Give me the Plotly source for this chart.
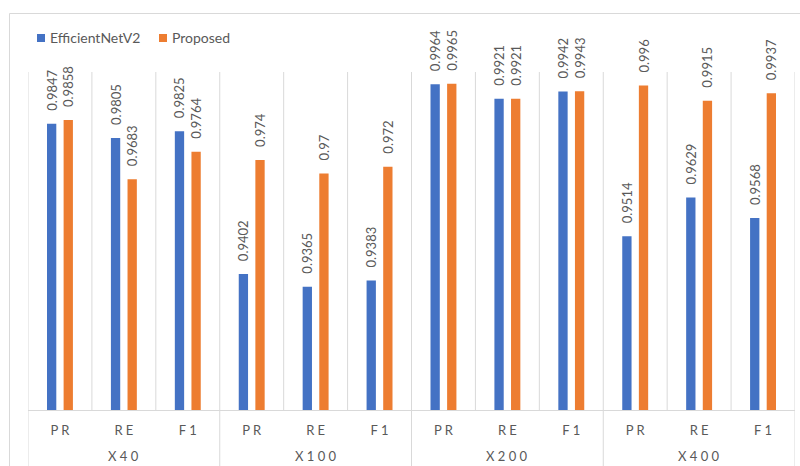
import plotly.graph_objects as go

# ---- data -------------------------------------------------------------
magnifications = ["X40", "X100", "X200", "X400"]
metrics = ["PR", "RE", "F1"]
series_names = ["EfficientNetV2", "Proposed"]
efficientnet_values = [0.9847, 0.9805, 0.9825,
                       0.9402, 0.9365, 0.9383,
                       0.9964, 0.9921, 0.9942,
                       0.9514, 0.9629, 0.9568]
proposed_values = [0.9858, 0.9683, 0.9764,
                   0.974, 0.97, 0.972,
                   0.9965, 0.9921, 0.9943,
                   0.996, 0.9915, 0.9937]
series_colors = ["#4472C4", "#ED7D31"]

# ---- geometry ---------------------------------------------------------
W, H = 800, 466
M_L, M_R, M_T, M_B = 28, 5, 72, 56
PW, PH = W - M_L - M_R, H - M_T - M_B
GREY = "#D9D9D9"
TEXT = "#595959"
FONT = "Lato, 'Open Sans', sans-serif"


def px_x(p):
    return (p - M_L) / PW


def px_y(p):
    return (H - M_B - p) / PH


def spaced(s):
    # letter-spaced axis labels
    return " ".join(s)


n_metrics = len(metrics)
n_cats = len(magnifications) * n_metrics
positions = list(range(n_cats))
inner_labels = [spaced(k) for _ in magnifications for k in metrics]

fig = go.Figure()
for name, vals, col in zip(series_names, [efficientnet_values, proposed_values], series_colors):
    fig.add_trace(go.Bar(
        x=positions, y=vals, name=name,
        marker=dict(color=col, line=dict(width=0)),
        text=["\u00a0\u00a0\u00a0" + str(v) for v in vals],
        textposition="outside", textangle=-90,
        textfont=dict(family=FONT, size=13, color=TEXT),
        constraintext="none", cliponaxis=False,
        showlegend=False,
    ))

shapes = [
    # chart frame
    dict(type="rect", xref="paper", yref="paper",
         x0=px_x(9.5), x1=px_x(810), y0=px_y(480), y1=px_y(13.5),
         line=dict(color=GREY, width=1), fillcolor="rgba(0,0,0,0)", layer="below"),
]
# vertical separators: every category boundary spans the plot,
# magnification boundaries continue down through the label band
for b in range(n_cats + 1):
    bottom = px_y(475) if b % n_metrics == 0 else 0
    shapes.append(dict(type="line", xref="x", yref="paper",
                       x0=b - 0.5, x1=b - 0.5, y0=bottom, y1=1,
                       line=dict(color=GREY, width=1), layer="below"))

annotations = []
for g, mag in enumerate(magnifications):
    annotations.append(dict(xref="x", yref="paper",
                            x=g * n_metrics + (n_metrics - 1) / 2, y=px_y(456),
                            xanchor="center", yanchor="middle", showarrow=False,
                            text=spaced(mag), font=dict(family=FONT, size=13, color=TEXT)))

legend_boxes = [(37, 45, 50), (159, 167, 172)]
for (sx0, sx1, tx), name, col in zip(legend_boxes, series_names, series_colors):
    shapes.append(dict(type="rect", xref="paper", yref="paper",
                       x0=px_x(sx0), x1=px_x(sx1), y0=px_y(42), y1=px_y(34),
                       line=dict(width=0), fillcolor=col))
    annotations.append(dict(xref="paper", yref="paper", x=px_x(tx - 2), y=px_y(38),
                            xanchor="left", yanchor="middle", showarrow=False,
                            text=name, font=dict(family=FONT, size=14, color=TEXT)))

fig.update_layout(
    width=W, height=H,
    margin=dict(l=M_L, r=M_R, t=M_T, b=M_B, pad=0),
    paper_bgcolor="white", plot_bgcolor="white",
    barmode="group", bargap=0.48, bargroupgap=0.44,
    shapes=shapes, annotations=annotations,
    xaxis=dict(
        range=[-0.5, n_cats - 0.5], showgrid=False, zeroline=False,
        tickmode="array", tickvals=positions, ticktext=inner_labels,
        showline=True, linecolor=GREY, linewidth=1,
        ticks="outside", ticklen=8, tickcolor="rgba(0,0,0,0)",
        tickfont=dict(family=FONT, size=13, color=TEXT),
    ),
    yaxis=dict(range=[0.9, 1.0], visible=False),
)

fig.write_html("out.html")
